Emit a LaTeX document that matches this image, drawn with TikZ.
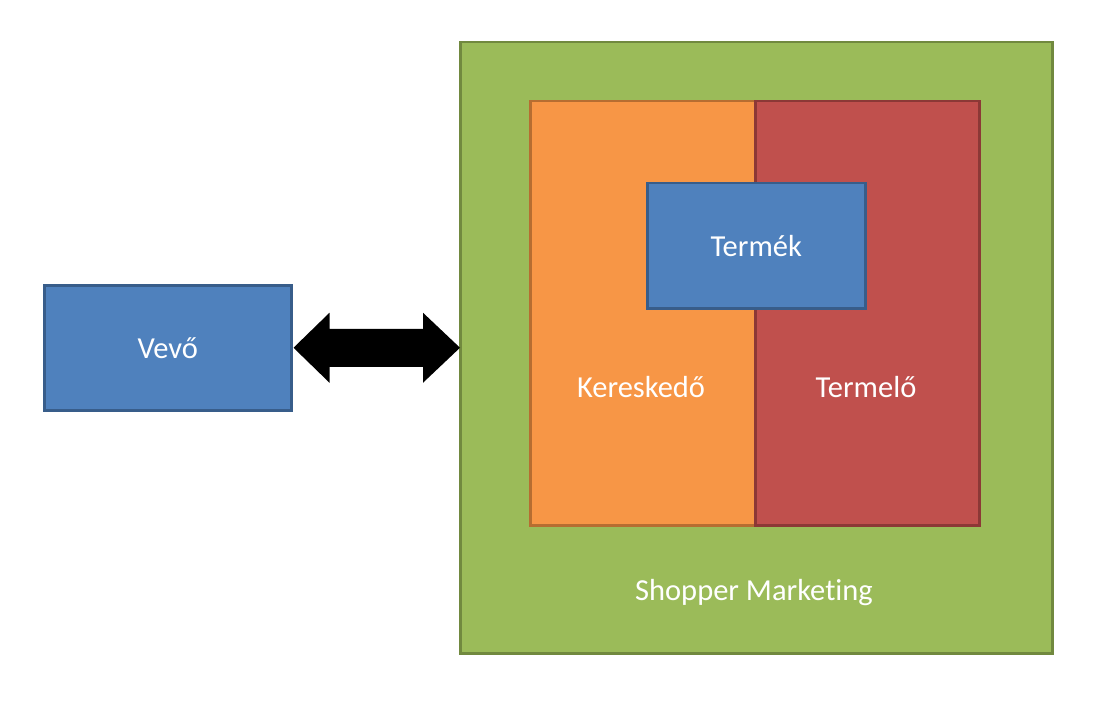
\documentclass[tikz,border=0pt]{standalone}
\usepackage{fontspec}
\setmainfont[Ligatures={NoCommon}]{Carlito}
\usetikzlibrary{calc}
\definecolor{bfill}{HTML}{4F81BD}\definecolor{bdraw}{HTML}{385D8A}
\definecolor{gfill}{HTML}{9BBB59}\definecolor{gdraw}{HTML}{71893F}
\definecolor{ofill}{HTML}{F79646}\definecolor{odraw}{HTML}{B66D31}
\definecolor{rfill}{HTML}{C0504D}\definecolor{rdraw}{HTML}{8C3836}
\tikzset{
 box/.style={draw, line width=2.5pt, inner sep=0pt, anchor=north west},
 lbl/.style={text=white, font=\fontsize{30.5}{34}\selectfont, inner sep=0pt},
}
\begin{document}
\begin{tikzpicture}[x=1pt,y=-1pt]
\useasboundingbox (0,0) rectangle (1109,706);
\node[box, fill=gfill, draw=gdraw, minimum width=592pt, minimum height=611pt] (green) at (459,41) {};
\node[box, fill=ofill, draw=odraw, minimum width=225pt, minimum height=424pt] (orange) at (529,100) {};
\node[box, fill=rfill, draw=rdraw, minimum width=224pt, minimum height=424pt] (red) at (754,100) {};
\node[box, fill=bfill, draw=bdraw, minimum width=218pt, minimum height=125pt] (termek) at (646,182) {};
\node[box, fill=bfill, draw=bdraw, minimum width=247pt, minimum height=125pt] (vevo) at (43,284) {};
\node[lbl] at (termek.center) {Termék};
\node[lbl] at (vevo.center) {Vevő};
\node[lbl] at (641,387) {Kereskedő};
\node[lbl] at (866,387) {Termelő};
\node[lbl] at (754,593) {Shopper Marketing};
\coordinate (L) at ($(vevo.east)+(1,0)$);
\coordinate (R) at ($(green.west |- L)+(1,0)$);
\fill[black] (L) -- ($(L)+(36,-35)$) -- ($(L)+(36,-19)$) -- ($(R)+(-37,-19)$) -- ($(R)+(-37,-35)$) -- (R)
  -- ($(R)+(-37,35)$) -- ($(R)+(-37,19)$) -- ($(L)+(36,19)$) -- ($(L)+(36,35)$) -- cycle;
\end{tikzpicture}
\end{document}
